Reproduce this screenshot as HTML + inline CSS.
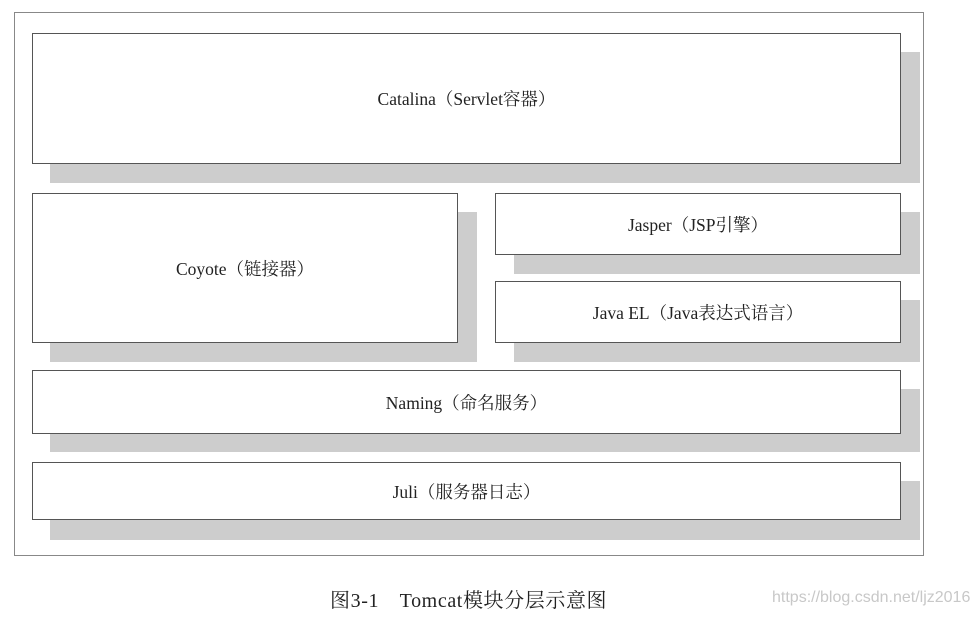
<!DOCTYPE html>
<html><head><meta charset="utf-8"><style>
body{margin:0;width:977px;height:618px;background:#fff;position:relative;overflow:hidden;font-family:"Liberation Serif","Noto Serif CJK SC",serif;color:#222}
.f{position:absolute;left:14px;top:12px;width:910px;height:544px;border:1px solid #888;box-sizing:border-box}
.s{position:absolute;background:#cdcdcd}
.b{position:absolute;background:#fff;border:1px solid #555;box-sizing:border-box;display:flex;align-items:center;justify-content:center;font-size:17.5px}
.cap{position:absolute;left:330px;top:584px;font-size:20px;letter-spacing:0.6px}
.w{position:absolute;left:772px;top:589px;font-family:"Liberation Sans",sans-serif;font-size:16px;color:#c8c8c8}
</style></head><body>
<div class="f"></div>
<div class="s" style="left:50px;top:52px;width:870px;height:131px"></div>
<div class="s" style="left:50px;top:212px;width:427px;height:150px"></div>
<div class="s" style="left:514px;top:212px;width:406px;height:62px"></div>
<div class="s" style="left:514px;top:300px;width:406px;height:62px"></div>
<div class="s" style="left:50px;top:389px;width:870px;height:63px"></div>
<div class="s" style="left:50px;top:481px;width:870px;height:59px"></div>
<div class="b" style="left:32px;top:33px;width:869px;height:131px">Catalina（Servlet容器）</div>
<div class="b" style="left:32px;top:193px;width:426px;height:150px">Coyote（链接器）</div>
<div class="b" style="left:495px;top:193px;width:406px;height:62px">Jasper（JSP引擎）</div>
<div class="b" style="left:495px;top:281px;width:406px;height:62px">Java EL（Java表达式语言）</div>
<div class="b" style="left:32px;top:370px;width:869px;height:64px">Naming（命名服务）</div>
<div class="b" style="left:32px;top:462px;width:869px;height:58px">Juli（服务器日志）</div>
<div class="cap">图3-1　Tomcat模块分层示意图</div>
<div class="w">https://blog.csdn.net/ljz2016</div>
</body></html>
